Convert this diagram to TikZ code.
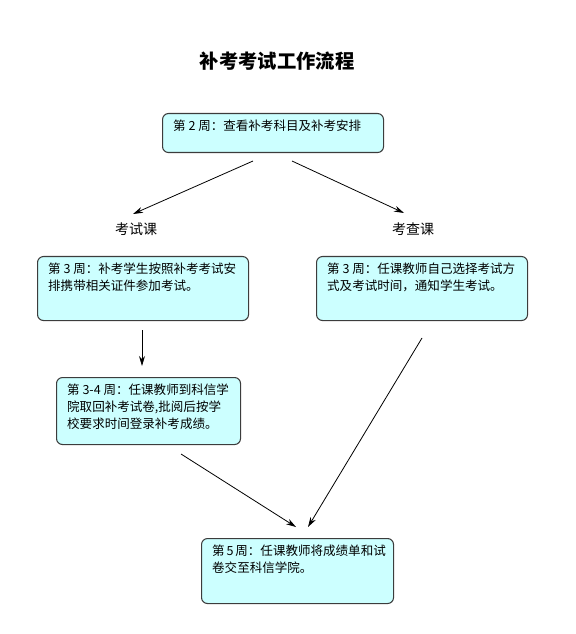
\documentclass[tikz,border=0pt]{standalone}
\usepackage{fontspec}
\setmainfont{Noto Sans CJK SC}
\usetikzlibrary{arrows.meta}
\definecolor{boxcyan}{RGB}{204,255,255}
\definecolor{boxline}{RGB}{60,60,60}

\begin{document}
\begin{tikzpicture}[
        x=0.75pt, y=-0.75pt,
        stage/.style={
            rectangle, draw=boxline, line width=0.8pt, rounded corners=4.5pt, fill=boxcyan,
            anchor=north west, inner xsep=8pt, inner ysep=4.5pt,
            font=\fontsize{9.4}{12.75}\selectfont
        },
        branch/.style={
            font=\fontsize{10.5}{12}\selectfont, inner sep=0pt
        },
        flow/.style={
            -{Stealth[length=7.5pt,width=4.5pt]}, line width=0.6pt
        }
    ]

    \useasboundingbox (0,0) rectangle (575,634);

    % Title
    \node[font=\bfseries\fontsize{14.5}{16}\selectfont] (title) at (277,61) {补考考试工作流程};

    % Week 2
    \node[stage] (week2) at (162,113) {\parbox[t][20.25pt][t]{149.75pt}{\raggedright 第~2~周：查看补考科目及补考安排}};

    % Two kinds of course
    \node[branch] (exam) at (136,229) {考试课};
    \node[branch] (check) at (413,229) {考查课};

    % Week 3, both branches
    \node[stage] (week3a) at (37,256) {\parbox[t][39pt][t]{142.25pt}{\raggedright 第~3~周：补考学生按照补考考试安\\排携带相关证件参加考试。}};
    \node[stage] (week3b) at (316,256) {\parbox[t][39pt][t]{142.25pt}{\raggedright 第~3~周：任课教师自己选择考试方\\式及考试时间，通知学生考试。}};

    % Week 3-4
    \node[stage] (week34) at (56,377) {\parbox[t][41.25pt][t]{122pt}{\raggedright 第~3-4~周：任课教师到科信学\\院取回补考试卷,批阅后按学\\校要求时间登录补考成绩。}};

    % Week 5
    \node[stage] (week5) at (201,538) {\parbox[t][39.75pt][t]{128pt}{\raggedright 第~5~周：任课教师将成绩单和试\\卷交至科信学院。}};

    % Arrow ends (the arrows stop short of the boxes)
    \coordinate (w2l) at (253,161);
    \coordinate (w2r) at (292,161);
    \coordinate (examin) at (133,214);
    \coordinate (checkin) at (404,213);
    \coordinate (w3out) at (142,330);
    \coordinate (w34in) at (142,366);
    \coordinate (w34out) at (181,454);
    \coordinate (w5inl) at (296,527);
    \coordinate (w3bout) at (422,338);
    \coordinate (w5inr) at (308,527);

    \draw[flow] (w2l) -- (examin);
    \draw[flow] (w2r) -- (checkin);
    \draw[flow] (w3out) -- (w34in);
    \draw[flow] (w34out) -- (w5inl);
    \draw[flow] (w3bout) -- (w5inr);

\end{tikzpicture}
\end{document}
